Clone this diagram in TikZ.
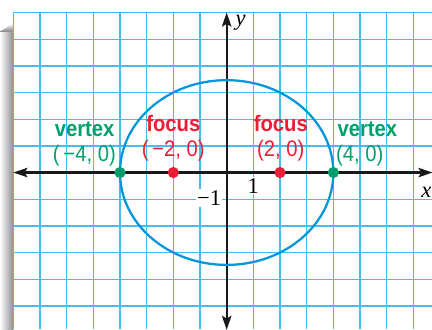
\documentclass[tikz,border=0pt]{standalone}
\usepackage{fontspec}
\setmainfont{Liberation Serif}
\newfontfamily\labfont[FakeStretch=0.9]{Liberation Sans}
\usetikzlibrary{arrows.meta}
\definecolor{gridblue}{RGB}{70,188,240}
\definecolor{ellblue}{RGB}{0,150,220}
\definecolor{vgreen}{RGB}{0,160,110}
\definecolor{fred}{RGB}{235,30,55}
\tikzset{
  gridline/.style={draw=gridblue, line width=1.4pt},
  axisline/.style={draw=black!90, line width=2.4pt, {Stealth[length=15pt,width=10pt,inset=3pt]}-{Stealth[length=15pt,width=10pt,inset=3pt]}},
  curve/.style={draw=ellblue, line width=2.4pt},
  lbold/.style={font=\labfont\bfseries\fontsize{24}{28}\selectfont, inner sep=0pt},
  lreg/.style={font=\labfont\fontsize{24}{28}\selectfont, inner sep=0pt},
  ticklab/.style={font=\fontsize{24}{28}\selectfont, fill=white, inner sep=1.5pt},
  axlab/.style={font=\itshape\fontsize{24}{28}\selectfont, inner sep=0pt},
  pt/.style={circle, inner sep=0pt, minimum size=0.42cm},
}
\begin{document}
\begin{tikzpicture}
\useasboundingbox (-8.5,-5.87) rectangle (7.7,6.47);
\fill[white] (-8.5,-5.87) rectangle (7.7,6.47);
% shadow at left edge
\shade[left color=white, right color=black!45] (-8.5,-5.87) rectangle (-8.0,5.3);
\shade[top color=white, bottom color=black!45] (-8.5,5.3) rectangle (-8.0,5.6);
\fill[white] (-8.5,5.3) -- (-8.5,5.6) -- (-8.0,5.6) -- cycle;
% grid
\fill[white] (-8,-5.87) rectangle (7.7,6);
\foreach \x in {-8,...,7} \draw[gridline] (\x,-5.87) -- (\x,6);
\foreach \y in {-5,...,6} \draw[gridline] (-8,\y) -- (7.7,\y);
% axes
\coordinate (xl) at (-8,0);
\coordinate (xr) at (7.72,0);
\coordinate (yb) at (0,-5.9);
\coordinate (yt) at (0,6.0);
\draw[axisline] (xl) -- (xr);
\draw[axisline] (yb) -- (yt);
% ellipse
\draw[curve] (0,0) ellipse [x radius=4, y radius=3.4641];
% points
\node[pt, fill=vgreen] (vl) at (-4,0) {};
\node[pt, fill=vgreen] (vr) at (4,0) {};
\node[pt, fill=fred] (fl) at (-2,0) {};
\node[pt, fill=fred] (fr) at (2,0) {};
% labels
\node[lbold, text=vgreen, anchor=base east] (vlt) at (-4.2,1.342) {vertex};
\node[lreg, text=vgreen, anchor=base east] (vlc) at (-4.15,0.405) {(\,−4, 0)};
\node[lbold, text=fred, anchor=base] (flt) at (-2,1.53) {focus};
\node[lreg, text=fred, anchor=base] (flc) at (-2,0.593) {(\,−2, 0)};
\node[lbold, text=fred, anchor=base] (frt) at (2.03,1.53) {focus};
\node[lreg, text=fred, anchor=base] (frc) at (2.03,0.593) {(2, 0)};
\node[lbold, text=vgreen, anchor=base west] (vrt) at (4.15,1.342) {vertex};
\node[lreg, text=vgreen, anchor=base west] (vrc) at (4.1,0.405) {(4, 0)};
% tick labels
\node[ticklab, anchor=base] (one) at (1,-0.77) {1};
\node[ticklab, anchor=base east] (mone) at (-0.15,-1.23) {−1};
% axis labels
\node[axlab, anchor=base east] (xlab) at (7.68,-0.92) {x};
\node[axlab, anchor=base west] (ylab) at (0.33,5.5) {y};
\end{tikzpicture}
\end{document}
